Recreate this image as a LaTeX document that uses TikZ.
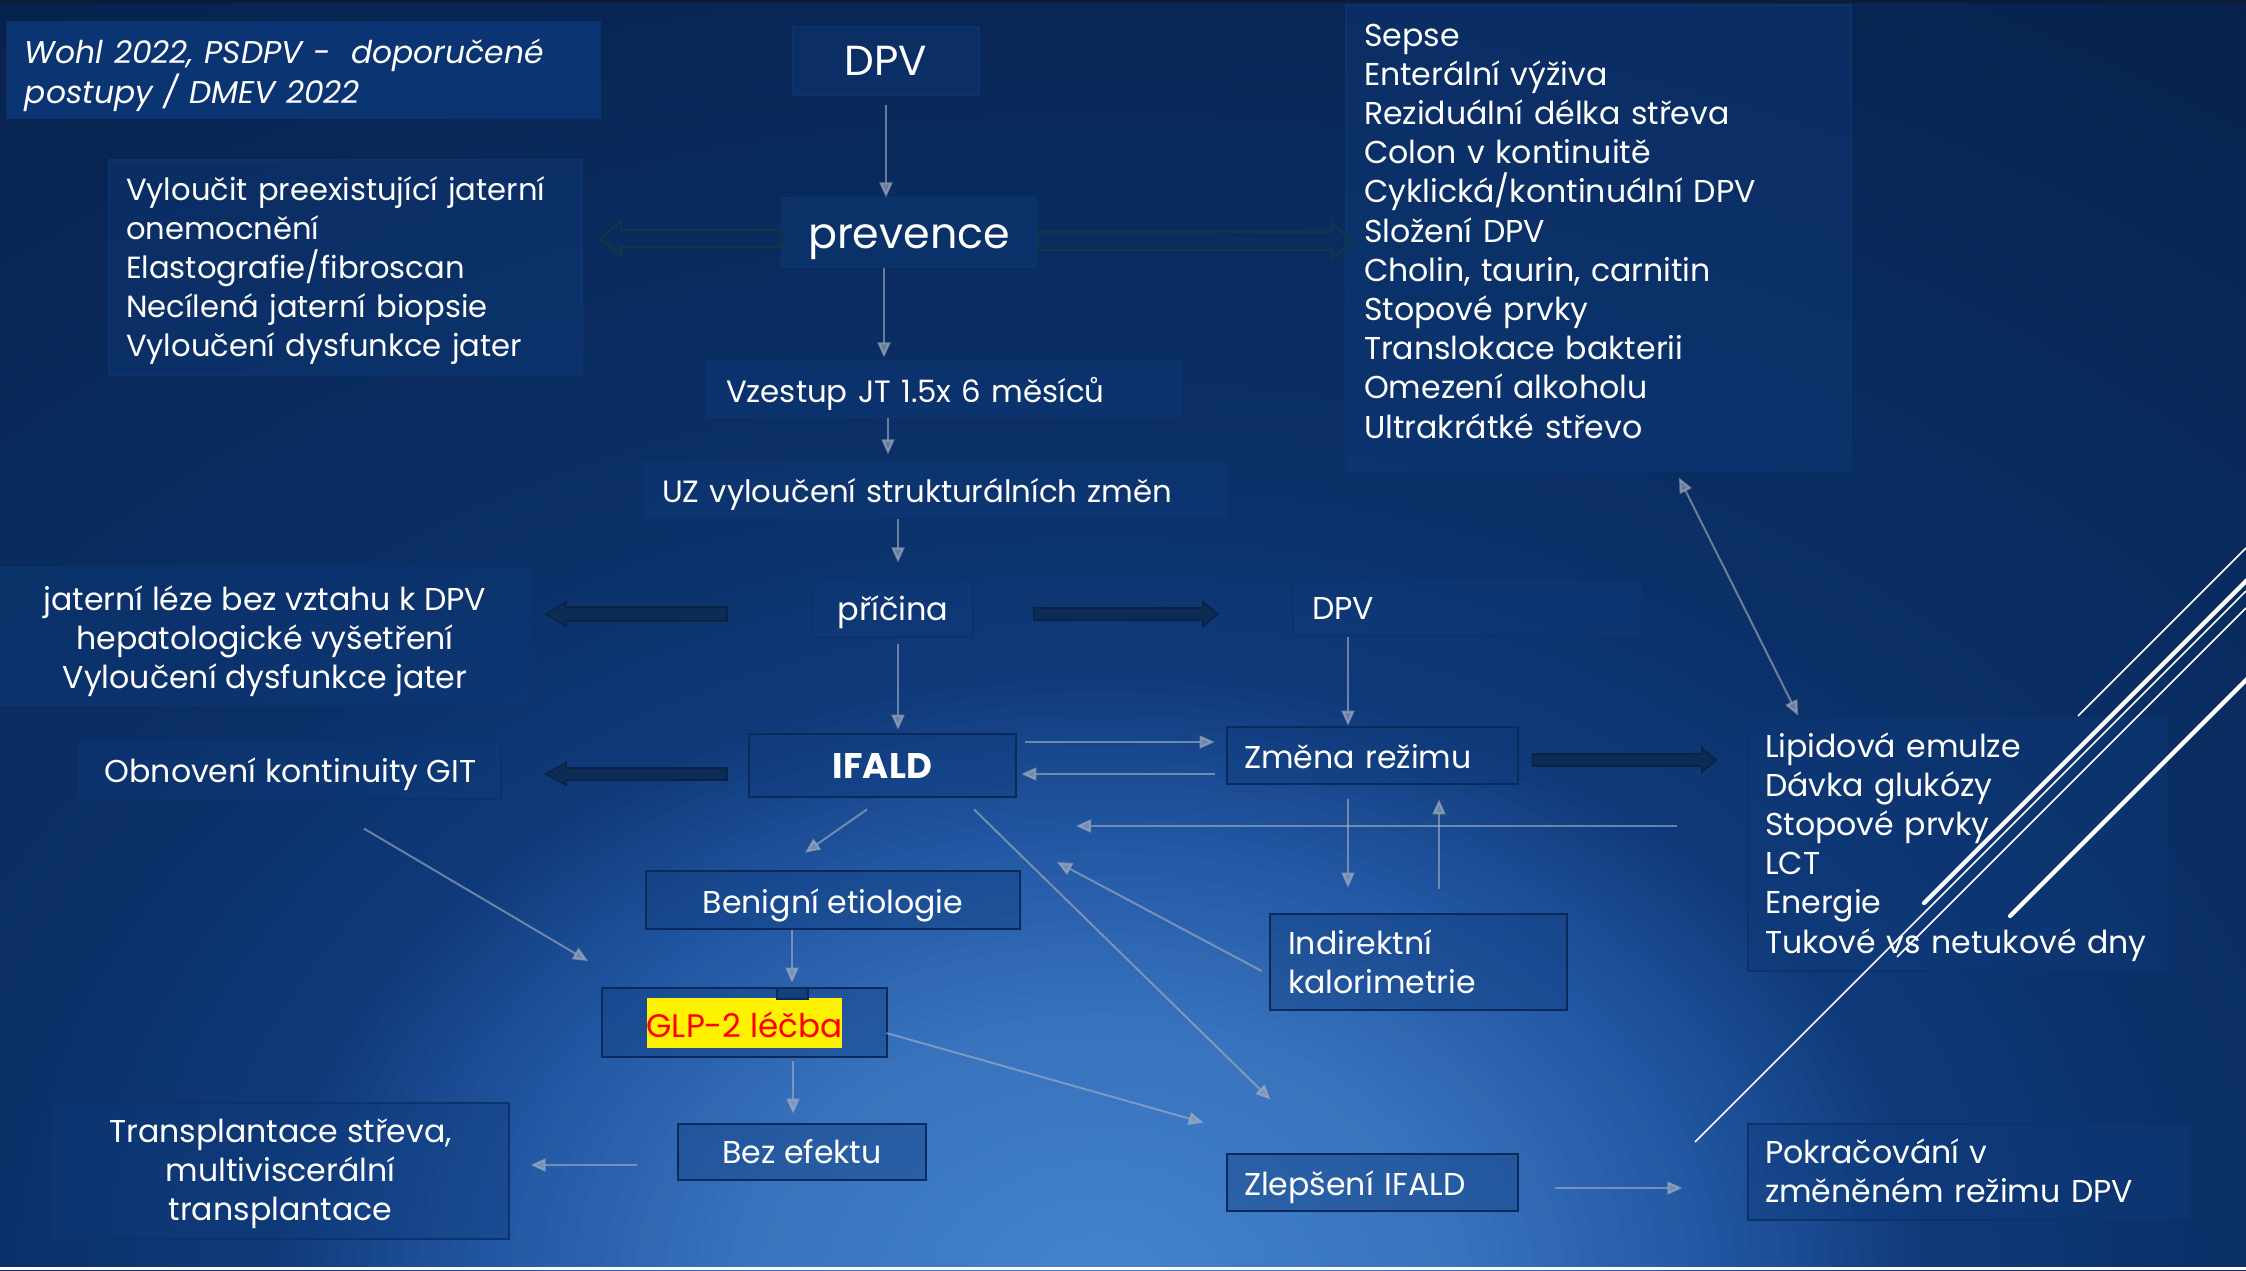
\documentclass[tikz,border=0pt]{standalone}
\usepackage{fontspec}
\setmainfont{Poppins}
\usetikzlibrary{arrows.meta}
\definecolor{bgA}{HTML}{4484CE}
\definecolor{bgB}{HTML}{3872BC}
\definecolor{bgC}{HTML}{2256A2}
\definecolor{bgD}{HTML}{0F3A7A}
\definecolor{bgE}{HTML}{0B3068}
\definecolor{bgF}{HTML}{092A5C}
\definecolor{bgG}{HTML}{071F48}
\definecolor{arrg}{HTML}{A8B2C2}
\definecolor{boxfill}{HTML}{0E3A7A}
\definecolor{boxline}{HTML}{0D336C}
\definecolor{boxdark}{HTML}{0A2A5C}
\definecolor{titlefill}{HTML}{0B3676}
\definecolor{blk}{HTML}{0C2C55}
\definecolor{blkline}{HTML}{0A2446}
\definecolor{hol}{HTML}{0C3848}
\definecolor{topstrip}{HTML}{0C1C36}
\definecolor{tabfill}{HTML}{12407E}
\newcommand\setbgcol[1]{%
 \ifdim #1pt>50pt \pgfmathsetmacro\pp{(#1-50)/22*100}\colorlet{cur}{bgG!\pp!bgF}%
 \else\ifdim #1pt>36pt \pgfmathsetmacro\pp{(#1-36)/14*100}\colorlet{cur}{bgF!\pp!bgE}%
 \else\ifdim #1pt>27pt \pgfmathsetmacro\pp{(#1-27)/9*100}\colorlet{cur}{bgE!\pp!bgD}%
 \else\ifdim #1pt>20pt \pgfmathsetmacro\pp{(#1-20)/7*100}\colorlet{cur}{bgD!\pp!bgC}%
 \else\ifdim #1pt>12pt \pgfmathsetmacro\pp{(#1-12)/8*100}\colorlet{cur}{bgC!\pp!bgB}%
 \else \pgfmathsetmacro\pp{#1/12*100}\colorlet{cur}{bgB!\pp!bgA}%
 \fi\fi\fi\fi\fi}
\newcommand\myblockarrow[7]{\draw[#1] (#2,{#5-#6}) -- (#3,{#5-#6}) -- (#3,{#5-#7}) -- (#4,#5) -- (#3,{#5+#7}) -- (#3,{#5+#6}) -- (#2,{#5+#6}) -- cycle;}
\newcommand\myfirst[1]{\rule{0pt}{#1pt}}
\newcommand\mylast[1]{\rule[-#1pt]{0pt}{0pt}}
\newcommand\bodyfont{\fontsize{15.8}{19.6}\selectfont}
\begin{document}
\begin{tikzpicture}[x=0.5pt,y=-0.5pt,
  >={Triangle[length=7.5pt,width=6.5pt]},
  box/.style={draw=boxline, line width=0.6pt, fill=boxfill, fill opacity=0.4, text opacity=1, text=white, inner sep=0pt, font=\bodyfont},
  boxs/.style={box, draw=boxdark, line width=1.4pt},
  conn/.style={draw=arrg, opacity=0.6, line width=1pt, ->},
  hollow/.style={draw=hol, line width=1.2pt},
  solidarr/.style={fill=blk, draw=blkline, line width=0.8pt},
  deco/.style={draw=white, line width=0.75pt},
  decothick/.style={draw=white, line width=2.1pt, line cap=round}]
\useasboundingbox (0,0) rectangle (2246,1270);
% background
\begin{scope}
\clip (0,0) rectangle (2246,1270);
\fill[bgG] (0,0) rectangle (2246,1270);
\foreach \i in {0,...,144} {
  \pgfmathsetmacro\u{72-\i/2}
  \setbgcol{\u}
  \pgfmathsetmacro\rx{31*\u+1}
  \pgfmathsetmacro\ry{23*\u+1}
  \fill[cur] (1100,1290) ellipse ({\rx} and {\ry});
}
\end{scope}
\fill[topstrip] (0,0) rectangle (2246,3);
\fill[white] (0,1267) rectangle (2246,1270);

% nodes
\node[box, fill=titlefill, fill opacity=0.9, minimum width=296.5pt, minimum height=48pt, text width=278.5pt, align=left, font=\fontsize{15.7}{20}\selectfont\itshape] (title) at (303.5,70) {\myfirst{18}Wohl 2022, PSDPV - \ doporučené\\postupy / DMEV 2022\mylast{5}};
\node[box, minimum width=93pt, minimum height=34pt, font=\fontsize{21}{24}\selectfont] (dpv) at (886,61) {\myfirst{19}DPV\mylast{5}};
\node[box, minimum width=127pt, minimum height=34.5pt, font=\fontsize{21.4}{26}\selectfont] (prev) at (909,232.5) {\myfirst{22}prevence\mylast{6.5}};
\node[box, minimum width=236.5pt, minimum height=107.5pt, text width=219.5pt, align=left, font=\fontsize{15.3}{19.6}\selectfont] (vyl) at (345.5,267.5) {\myfirst{15.9}Vyloučit preexistující jaterní\\onemocnění\\Elastografie/fibroscan\\Necílená jaterní biopsie\\Vyloučení dysfunkce jater\mylast{5}};
\node[box, minimum width=237pt, minimum height=27.5pt, text width=218pt, align=left, font=\fontsize{15.4}{20}\selectfont] (vzest) at (944,389.5) {\myfirst{17.5}Vzestup JT 1.5x 6 měsíců\mylast{5}};
\node[box, minimum width=291.5pt, minimum height=28pt, text width=273.5pt, align=left, font=\fontsize{15.4}{20}\selectfont] (uz) at (935.5,490) {\myfirst{17}UZ vyloučení strukturálních změn\mylast{5}};
\node[box, minimum width=80pt, minimum height=29pt, font=\fontsize{16}{20}\selectfont] (pric) at (893,608) {\myfirst{17}příčina\mylast{5}};
\node[box, minimum width=265pt, minimum height=68.5pt, align=center] (jat) at (265,636.5) {\myfirst{17.7}jaterní léze bez vztahu k DPV\\hepatologické vyšetření\\Vyloučení dysfunkce jater\mylast{5}};
\node[box, minimum width=174pt, minimum height=28pt, text width=155pt, align=left] (dpv2) at (1467,608) {\myfirst{16}DPV\mylast{5}};
\node[boxs, minimum width=133.5pt, minimum height=31.5pt, font=\fontsize{17.8}{20}\selectfont\bfseries] (ifald) at (882.5,765.5) {\myfirst{17.5}IFALD\mylast{5}};
\node[boxs, minimum width=145.5pt, minimum height=28.5pt, text width=128.5pt, align=left] (zmena) at (1372.5,755.5) {\myfirst{17.5}Změna režimu\mylast{5}};
\node[box, minimum width=210.5pt, minimum height=28.5pt] (obn) at (290.5,770.5) {\myfirst{16.5}Obnovení kontinuity GIT\mylast{5}};
\node[box, minimum width=209pt, minimum height=126.5pt, text width=192pt, align=left] (lip) at (1957,844.5) {\myfirst{15.5}Lipidová emulze\\Dávka glukózy\\Stopové prvky\\LCT\\Energie\\Tukové vs netukové dny\mylast{5}};
\node[boxs, minimum width=187pt, minimum height=29pt] (ben) at (833,900) {\myfirst{18}Benigní etiologie\mylast{5}};
\node[boxs, minimum width=142.5pt, minimum height=34.5pt] (glp) at (744.5,1022.5) {\setlength\fboxsep{0pt}\colorbox{yellow}{\rule[-5pt]{0pt}{25pt}\fontsize{16.3}{20}\selectfont\textcolor{red}{GLP-2 léčba}}};
\node[boxs, minimum width=124pt, minimum height=28pt] (bez) at (802,1152) {\myfirst{16}Bez efektu\mylast{5}};
\node[box, minimum width=228.5pt, minimum height=68pt, align=center] (trans) at (280.5,1171) {\myfirst{15.2}Transplantace střeva,\\multiviscerální\\transplantace\mylast{5}};
\node[boxs, minimum width=148.5pt, minimum height=48pt, text width=130.5pt, align=left] (ind) at (1418.5,962) {\myfirst{16.6}Indirektní\\kalorimetrie\mylast{5}};
\node[boxs, minimum width=145.5pt, minimum height=28.5pt, text width=128.5pt, align=left] (zlep) at (1372.5,1182.5) {\myfirst{17.5}Zlepšení IFALD\mylast{5}};
\node[box, minimum width=221pt, minimum height=48pt, text width=204pt, align=left] (pok) at (1969,1172) {\myfirst{15.6}Pokračování v\\změněném režimu DPV\mylast{5}};
\node[box, minimum width=252.5pt, minimum height=233pt, text width=234.5pt, align=left] (sepse) at (1598.5,238) {\myfirst{14}Sepse\\Enterální výživa\\Reziduální délka střeva\\Colon v kontinuitě\\Cyklická/kontinuální DPV\\Složení DPV\\Cholin, taurin, carnitin\\Stopové prvky\\Translokace bakterii\\Omezení alkoholu\\Ultrakrátké střevo\mylast{10}};

\fill[tabfill, draw=boxdark, line width=0.6pt] (777,988) rectangle (808,999);

% block arrows
\myblockarrow{hollow}{782}{621}{600}{238.5}{8.5}{17}
\myblockarrow{hollow}{1038}{1332}{1352}{241}{9}{18}
\myblockarrow{solidarr}{727}{566}{546}{614}{7}{12}
\myblockarrow{solidarr}{1034}{1203}{1218}{614}{6}{12.5}
\myblockarrow{solidarr}{727}{566}{546}{774}{6}{11}
\myblockarrow{solidarr}{1533}{1702}{1716}{760}{6}{12}

% connectors
\coordinate (lx) at (1076,826);
\coordinate (c2) at (1057,862);
\coordinate (c3) at (588,961);
\draw[conn] ([yshift=-4.5pt]dpv.south) -- (dpv.south |- prev.north);
\draw[conn] ([xshift=-12.5pt]prev.south) -- ([xshift=-30pt,yshift=2pt]vzest.north);
\draw[conn] ([xshift=-28pt]vzest.south) -- ([xshift=-23.75pt,yshift=3.5pt]uz.north);
\draw[conn] ([xshift=-18.75pt]uz.south) -- ([xshift=2.5pt,yshift=8pt]pric.north);
\draw[conn] ([xshift=2.5pt,yshift=-3pt]pric.south) -- ([xshift=7.75pt,yshift=1.5pt]ifald.north);
\draw[conn] ([xshift=-59.5pt]dpv2.south) -- ([xshift=-12.25pt]zmena.north);
\draw[conn, shorten <=4pt, shorten >=5.5pt] ([yshift=11.75pt]ifald.east) -- ([yshift=6.75pt]zmena.west);
\draw[conn, shorten <=5.5pt, shorten >=2pt] ([yshift=-9.25pt]zmena.west) -- ([yshift=-4.25pt]ifald.east);
\draw[conn, shorten <=35pt] ([yshift=9.25pt]lip.west) -- (lx);
\draw[conn, shorten >=12.5pt] ([xshift=-12.25pt,yshift=-7pt]zmena.south) -- ([xshift=-35.25pt]ind.north);
\draw[conn] ([xshift=10.25pt,yshift=12pt]ind.north) -- ([xshift=33.25pt,yshift=-7pt]zmena.south);
\draw[conn] ([xshift=-3.5pt,yshift=-4.5pt]ind.west) -- (c2);
\draw[conn] ([xshift=45.75pt,yshift=-5.5pt]ifald.south) -- ([xshift=22.5pt,yshift=26.5pt]zlep.north west);
\draw[conn] ([xshift=-1pt,yshift=-5.25pt]glp.east) -- ([xshift=-11pt,yshift=15pt]zlep.north west);
\draw[conn] ([xshift=-7.75pt,yshift=-5.5pt]ifald.south) -- ([xshift=-14pt,yshift=8.5pt]ben.north);
\draw[conn] ([xshift=-20.5pt]ben.south) -- ([xshift=23.75pt,yshift=2pt]glp.north);
\draw[conn] ([xshift=24.25pt,yshift=-1.5pt]glp.south) -- ([xshift=-4.5pt,yshift=4.5pt]bez.north);
\draw[conn, shorten <=20pt, shorten >=10.5pt] ([yshift=-6.5pt]bez.west) -- ([yshift=3pt]trans.east);
\draw[conn, shorten <=18pt, shorten >=32.5pt] ([yshift=-2.75pt]zlep.east) -- ([yshift=-8pt]pok.west);
\draw[conn] ([xshift=36.75pt,yshift=-14.5pt]obn.south) -- (c3);
\draw[conn, <->] ([xshift=40.25pt,yshift=-3pt]sepse.south) -- ([xshift=-79.5pt,yshift=1pt]lip.north);

% decorative lines
\draw[deco] (2078,716) -- (2246,548);
\draw[decothick] (1924,903) -- (2260,567);
\draw[deco] (1695,1142) -- (2246,591);
\draw[deco] (1897,957) -- (2246,608);
\draw[decothick] (2010,916) -- (2260,666);
\end{tikzpicture}
\end{document}
